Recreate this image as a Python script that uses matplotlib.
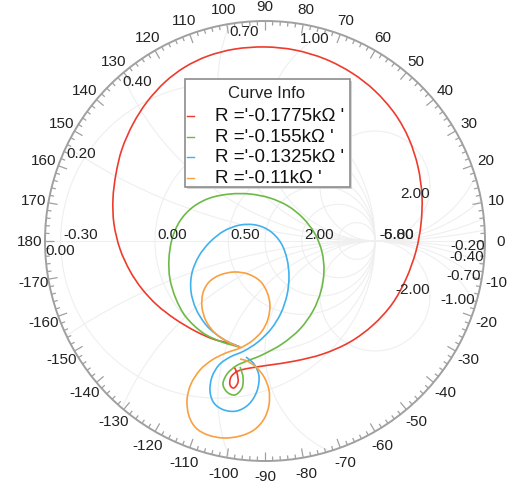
import numpy as np
import matplotlib.pyplot as plt
from matplotlib.patches import Circle, Rectangle, PathPatch
from matplotlib.path import Path
from matplotlib.collections import LineCollection

plt.rcParams['font.family'] = ['Liberation Sans', 'DejaVu Sans']

# Swept resistance values shown in the legend
series_labels = ["R ='-0.1775kΩ '", "R ='-0.155kΩ '", "R ='-0.1325kΩ '", "R ='-0.11kΩ '"]
series_colors = ['#ee3b2d', '#6cba45', '#40b1ee', '#f9a040']

# S11 traces (real / imag part of the reflection coefficient)
red_re = [-0.227, -0.336, -0.473, -0.636, -0.818, -0.982, -1.118, -1.227, -1.318, -1.373,
          -1.382, -1.355, -1.300, -1.200, -1.073, -0.909, -0.727, -0.518, -0.273, 0.000,
          0.273, 0.545, 0.791, 1.000, 1.182, 1.309, 1.391, 1.427, 1.418, 1.373,
          1.282, 1.155, 0.982, 0.773, 0.527, 0.273, 0.045, -0.136, -0.245, -0.309,
          -0.318, -0.282, -0.245, -0.255, -0.282]
red_im = [-0.964, -0.927, -0.891, -0.818, -0.709, -0.582, -0.436, -0.273, -0.073, 0.155,
          0.382, 0.609, 0.836, 1.064, 1.264, 1.445, 1.582, 1.682, 1.745, 1.764,
          1.736, 1.655, 1.527, 1.364, 1.155, 0.927, 0.673, 0.409, 0.155, -0.091,
          -0.345, -0.573, -0.764, -0.918, -1.027, -1.091, -1.127, -1.155, -1.182, -1.236,
          -1.309, -1.336, -1.282, -1.200, -1.145]

green_re = [-0.227, -0.391, -0.564, -0.718, -0.809, -0.864, -0.873, -0.845, -0.773, -0.655,
            -0.500, -0.318, -0.136, 0.045, 0.209, 0.345, 0.455, 0.518, 0.536, 0.509,
            0.436, 0.318, 0.155, -0.027, -0.164, -0.264, -0.345, -0.382, -0.345, -0.273,
            -0.209, -0.200, -0.227]
green_im = [-0.964, -0.918, -0.836, -0.691, -0.527, -0.345, -0.164, 0.018, 0.182, 0.309,
            0.391, 0.427, 0.427, 0.391, 0.318, 0.209, 0.064, -0.100, -0.273, -0.455,
            -0.636, -0.800, -0.936, -1.036, -1.091, -1.136, -1.209, -1.300, -1.373, -1.400,
            -1.336, -1.236, -1.145]

blue_re = [-0.227, -0.382, -0.527, -0.627, -0.673, -0.664, -0.600, -0.500, -0.373, -0.227,
           -0.082, 0.045, 0.145, 0.200, 0.218, 0.200, 0.145, 0.055, -0.064, -0.191,
           -0.318, -0.418, -0.482, -0.500, -0.464, -0.373, -0.255, -0.145, -0.073, -0.055,
           -0.100, -0.173]
blue_im = [-0.964, -0.891, -0.773, -0.618, -0.455, -0.291, -0.136, -0.009, 0.091, 0.145,
           0.145, 0.091, -0.018, -0.164, -0.327, -0.491, -0.655, -0.800, -0.918, -1.000,
           -1.055, -1.127, -1.236, -1.364, -1.473, -1.536, -1.545, -1.482, -1.364, -1.227,
           -1.118, -1.055]

orange_re = [-0.227, -0.336, -0.455, -0.536, -0.573, -0.564, -0.509, -0.409, -0.282, -0.155,
             -0.045, 0.018, 0.045, 0.027, -0.027, -0.118, -0.227, -0.355, -0.482, -0.591,
             -0.673, -0.709, -0.691, -0.627, -0.518, -0.373, -0.227, -0.100, -0.009, 0.036,
             0.036, -0.009, -0.082, -0.164, -0.227]
orange_im = [-0.964, -0.918, -0.836, -0.727, -0.600, -0.473, -0.373, -0.309, -0.282, -0.300,
             -0.364, -0.464, -0.582, -0.709, -0.818, -0.909, -0.973, -1.018, -1.082, -1.173,
             -1.300, -1.445, -1.591, -1.700, -1.764, -1.791, -1.773, -1.718, -1.618, -1.491,
             -1.355, -1.236, -1.145, -1.091, -1.073]

# Smith grid
r_values = [-0.3, 0.0, 0.5, 1.0, 2.0, 5.0]
x_values = [0.2, 0.4, 0.7, 1.0, 2.0]
GAMMA_MAX = 2.0


def trace_path(xs, ys):
    # cubic segments passing through every sample (Catmull-Rom tangents)
    p = np.column_stack([xs, ys])
    n = len(p)
    verts, codes = [p[0]], [Path.MOVETO]
    for i in range(n - 1):
        p0 = p[i - 1] if i > 0 else p[i]
        p3 = p[i + 2] if i + 2 < n else p[i + 1]
        verts += [p[i] + (p[i + 1] - p0) / 6, p[i + 1] - (p3 - p[i]) / 6, p[i + 1]]
        codes += [Path.CURVE4] * 3
    return Path(verts, codes)


fig = plt.figure(figsize=(5.19, 4.89), dpi=100)
ax = fig.add_axes([0, 0, 1, 1])
ax.set_xlim(-265 / 110, 254 / 110)
ax.set_ylim(-247 / 110, 242 / 110)
ax.axis('off')

clip = Circle((0, 0), GAMMA_MAX, transform=ax.transData)
t = np.linspace(0, 2 * np.pi, 721)
grid_kw = dict(color='#efefef', lw=0.8, zorder=1)

for r in r_values:
    c, rad = r / (r + 1), 1 / abs(r + 1)
    ln, = ax.plot(c + rad * np.cos(t), rad * np.sin(t), **grid_kw)
    ln.set_clip_path(clip)
for x in x_values:
    for s in (1, -1):
        rad = 1 / x
        ln, = ax.plot(1 + rad * np.cos(t), s * rad + rad * np.sin(t), **grid_kw)
        ln.set_clip_path(clip)
ax.plot([-GAMMA_MAX, GAMMA_MAX], [0, 0], **grid_kw)

# outer ring with angle ticks
ax.add_patch(Circle((0, 0), GAMMA_MAX, fill=False, ec='#a0a0a0', lw=1.4, zorder=3))
segs = []
for deg in range(0, 360, 2):
    a = np.radians(deg)
    ln = 0.085 if deg % 10 == 0 else 0.04
    segs.append([(GAMMA_MAX * np.cos(a), GAMMA_MAX * np.sin(a)),
                 ((GAMMA_MAX - ln) * np.cos(a), (GAMMA_MAX - ln) * np.sin(a))])
ax.add_collection(LineCollection(segs, colors='#a0a0a0', lw=0.9, zorder=3))

txt_kw = dict(fontsize=11, color='#222222', zorder=5)
for deg in range(-170, 190, 10):
    a = np.radians(deg)
    ax.text(2.14 * np.cos(a), 2.14 * np.sin(a), str(deg), ha='center', va='center', **txt_kw)


# reactance labels where the circles meet the outer ring
def ring_hit(x):
    k = (GAMMA_MAX ** 2 + 1) / 2
    amp = np.hypot(GAMMA_MAX, GAMMA_MAX / x)
    if amp < k:
        return None
    phi = np.arctan2(GAMMA_MAX / x, GAMMA_MAX)
    return phi + np.arccos(k / amp)


for x in x_values:
    for s in (1, -1):
        a = ring_hit(s * x)
        if a is None:
            px, py = 1 + 1 / x, s / x
        else:
            px, py = GAMMA_MAX * np.cos(a), GAMMA_MAX * np.sin(a)
        ha = 'left' if px < 0 else 'right'
        va = 'top' if s > 0 else 'bottom'
        ax.text(px, py, f'{s * x:.2f}', ha=ha, va=va, **txt_kw)
ax.text(-GAMMA_MAX, -0.02, '0.00', ha='left', va='top', **txt_kw)

# resistance labels on the real axis
for r in [-0.3, 0.0, 0.5, 2.0]:
    ax.text((r - 1) / (r + 1) + 0.02, 0.0, f'{r:.2f}', ha='left', va='bottom', **txt_kw)
for s in ['-5.00', '-6.80']:
    ax.text(1.04, 0.0, s, ha='left', va='bottom', **txt_kw)

curves = [(red_re, red_im), (green_re, green_im), (blue_re, blue_im), (orange_re, orange_im)]
for (re_, im_), col in zip(curves, series_colors):
    ax.add_patch(PathPatch(trace_path(re_, im_), fill=False, ec=col, lw=1.2, zorder=4))

# legend box
W, H = 519, 489


def fx(p):
    return p / W


def fy(p):
    return 1 - p / H


fig.patches.append(Rectangle((fx(187), fy(190)), fx(350) - fx(185), fy(80) - fy(188),
                             transform=fig.transFigure, fc='#d4d4d4', ec='none', zorder=6))
fig.patches.append(Rectangle((fx(185), fy(188)), fx(350) - fx(185), fy(80) - fy(188),
                             transform=fig.transFigure, fc='white', ec='#8c8c8c', lw=1.2, zorder=7))
fig.text(fx(267), fy(94), 'Curve Info', ha='center', va='center', fontsize=12, color='#222222', zorder=8)
for i, (lab, col) in enumerate(zip(series_labels, series_colors)):
    yy = 117 + 20.5 * i
    fig.lines.append(plt.Line2D([fx(187), fx(194)], [fy(yy), fy(yy)], transform=fig.transFigure,
                                color=col, lw=1.0, zorder=8))
    fig.text(fx(215), fy(yy), lab, ha='left', va='center', fontsize=13.5, color='#111111', zorder=8)

fig.savefig('out.png', dpi=100)
